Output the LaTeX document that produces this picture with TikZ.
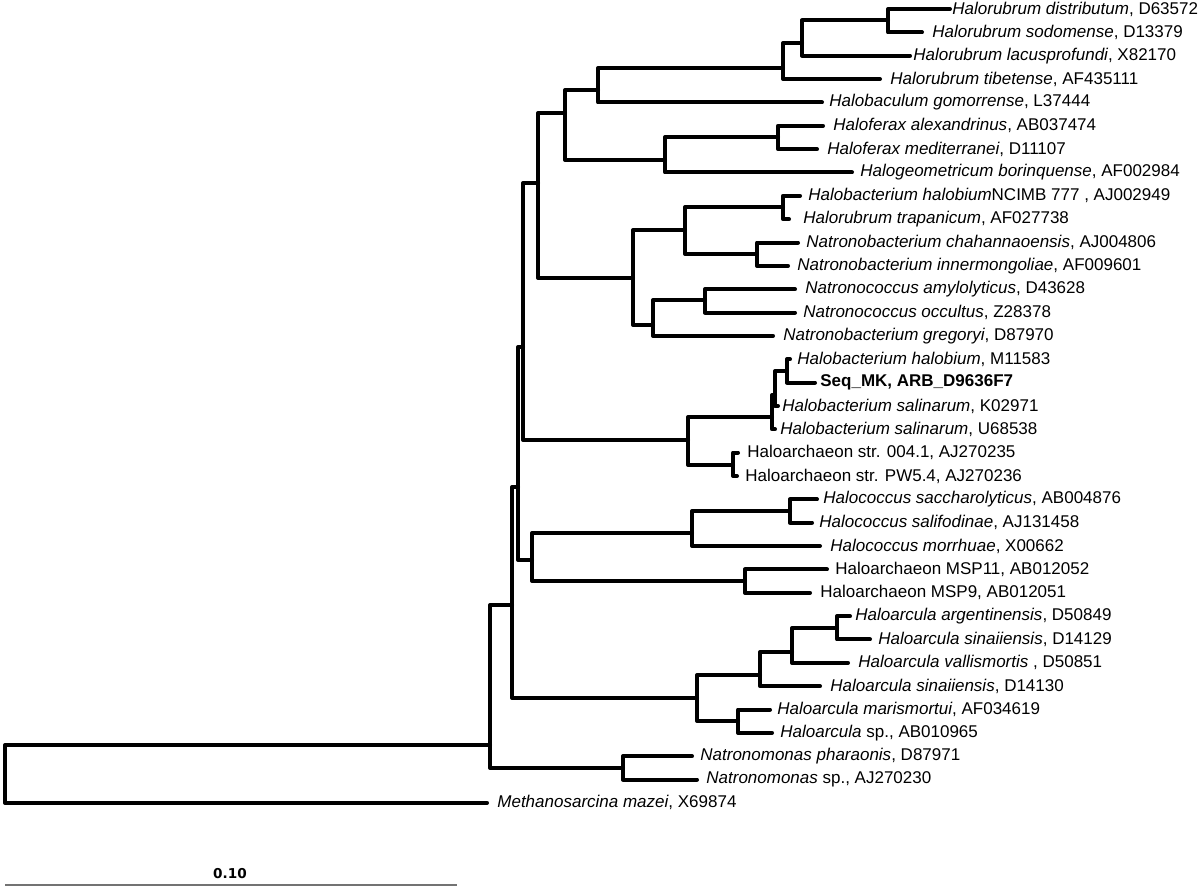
\documentclass[tikz,border=0pt]{standalone}
\usepackage{fontspec}
\setmainfont{Liberation Sans}
\newfontfamily\scalefont{DejaVu Sans}
\begin{document}
\begin{tikzpicture}[x=0.5pt,y=-0.5pt,
  br/.style={line width=2pt,line join=round,line cap=round},
  lab/.style={anchor=west,inner sep=0pt,font=\fontsize{8.5}{10}\selectfont},
  sbar/.style={line width=0.9pt,draw=black!55},
  sblab/.style={inner sep=0pt,font=\scalefont\bfseries\fontsize{6.8}{8}\selectfont}]
\useasboundingbox (0,0) rectangle (1200,888);
% leaf tips
\coordinate (t1) at (950,9);
\coordinate (t2) at (922,32.35);
\coordinate (t3) at (910,55.7);
\coordinate (t4) at (880,79.05);
\coordinate (t5) at (822,102.4);
\coordinate (t6) at (823,125.75);
\coordinate (t7) at (817,149.1);
\coordinate (t8) at (852,172.45);
\coordinate (t9) at (800,195.8);
\coordinate (t10) at (789,219.15);
\coordinate (t11) at (798,242.5);
\coordinate (t12) at (788,265.85);
\coordinate (t13) at (795,289.2);
\coordinate (t14) at (795,312.55);
\coordinate (t15) at (773,335.9);
\coordinate (t16) at (790,359.25);
\coordinate (t17) at (815,382.6);
\coordinate (t18) at (778,405.95);
\coordinate (t19) at (775,429.3);
\coordinate (t20) at (738,452.65);
\coordinate (t21) at (737,476);
\coordinate (t22) at (817,499.35);
\coordinate (t23) at (812,522.7);
\coordinate (t24) at (820,546.05);
\coordinate (t25) at (827,569.4);
\coordinate (t26) at (810,592.75);
\coordinate (t27) at (850,616.1);
\coordinate (t28) at (870,639.45);
\coordinate (t29) at (848,662.8);
\coordinate (t30) at (820,686.15);
\coordinate (t31) at (770,709.5);
\coordinate (t32) at (772,732.85);
\coordinate (t33) at (692,756.2);
\coordinate (t34) at (697,779.55);
\coordinate (t35) at (487,802.9);
% internal nodes
\coordinate (n888) at (888,20.5);
\coordinate (n802) at (802,43);
\coordinate (n783a) at (783,68);
\coordinate (n598) at (598,90);
\coordinate (n778) at (778,137);
\coordinate (n665) at (665,160);
\coordinate (n565) at (565,113);
\coordinate (n783b) at (783,207);
\coordinate (n757) at (757,254);
\coordinate (n685) at (685,230);
\coordinate (n705) at (705,300);
\coordinate (n653) at (653,325);
\coordinate (n633) at (633,278);
\coordinate (n538) at (538,183);
\coordinate (n787) at (787,371);
\coordinate (n775) at (775,395);
\coordinate (n772) at (772,417);
\coordinate (n733) at (733,465);
\coordinate (n688) at (688,440);
\coordinate (n523) at (523,347);
\coordinate (n790) at (790,511);
\coordinate (n692) at (692,533);
\coordinate (n745) at (745,581);
\coordinate (n532) at (532,560);
\coordinate (n518) at (518,487);
\coordinate (n837) at (837,628);
\coordinate (n792) at (792,652);
\coordinate (n760) at (760,675);
\coordinate (n738) at (738,721);
\coordinate (n697) at (697,698);
\coordinate (n512) at (512,605);
\coordinate (n623) at (623,768);
\coordinate (n490) at (490,745);
\coordinate (root) at (5,774);
% branches
\foreach \p/\c in {n888/t1,n888/t2,n802/n888,n802/t3,n783a/n802,n783a/t4,
  n598/n783a,n598/t5,n778/t6,n778/t7,n665/n778,n665/t8,n565/n598,n565/n665,
  n783b/t9,n783b/t10,n757/t11,n757/t12,n685/n783b,n685/n757,
  n705/t13,n705/t14,n653/n705,n653/t15,n633/n685,n633/n653,
  n538/n565,n538/n633,
  n787/t16,n787/t17,n775/n787,n775/t18,n772/n775,n772/t19,
  n733/t20,n733/t21,n688/n772,n688/n733,n523/n538,n523/n688,
  n790/t22,n790/t23,n692/n790,n692/t24,n745/t25,n745/t26,
  n532/n692,n532/n745,n518/n523,n518/n532,
  n837/t27,n837/t28,n792/n837,n792/t29,n760/n792,n760/t30,
  n738/t31,n738/t32,n697/n760,n697/n738,n512/n518,n512/n697,
  n623/t33,n623/t34,n490/n512,n490/n623,root/n490,root/t35}
  {\draw[br] (\p) |- (\c);}
% labels
\node[lab] (l1) at (952,9) {\textit{Halorubrum distributum}, D63572};
\node[lab] (l2) at (932,32.35) {\textit{Halorubrum sodomense}, D13379};
\node[lab] (l3) at (913,55.7) {\textit{Halorubrum lacusprofundi}, X82170};
\node[lab] (l4) at (890,79.05) {\textit{Halorubrum tibetense}, AF435111};
\node[lab] (l5) at (829,102.4) {\textit{Halobaculum gomorrense}, L37444};
\node[lab] (l6) at (833,125.75) {\textit{Haloferax alexandrinus}, AB037474};
\node[lab] (l7) at (827,149.1) {\textit{Haloferax mediterranei}, D11107};
\node[lab] (l8) at (860,172.45) {\textit{Halogeometricum borinquense}, AF002984};
\node[lab] (l9) at (808,195.8) {\textit{Halobacterium halobium}NCIMB 777 , AJ002949};
\node[lab] (l10) at (803,219.15) {\textit{Halorubrum trapanicum}, AF027738};
\node[lab] (l11) at (806,242.5) {\textit{Natronobacterium chahannaoensis}, AJ004806};
\node[lab] (l12) at (797,265.85) {\textit{Natronobacterium innermongoliae}, AF009601};
\node[lab] (l13) at (805,289.2) {\textit{Natronococcus amylolyticus}, D43628};
\node[lab] (l14) at (803,312.55) {\textit{Natronococcus occultus}, Z28378};
\node[lab] (l15) at (783,335.9) {\textit{Natronobacterium gregoryi}, D87970};
\node[lab] (l16) at (797,359.25) {\textit{Halobacterium halobium}, M11583};
\node[lab] (l17) at (820,382.6) {\textbf{Seq\_MK, ARB\_D9636F7}};
\node[lab] (l18) at (782,405.95) {\textit{Halobacterium salinarum}, K02971};
\node[lab] (l19) at (780,429.3) {\textit{Halobacterium salinarum}, U68538};
\node[lab] (l20) at (747,452.65) {Haloarchaeon str. 004.1, AJ270235};
\node[lab] (l21) at (745,476) {Haloarchaeon str. PW5.4, AJ270236};
\node[lab] (l22) at (823,499.35) {\textit{Halococcus saccharolyticus}, AB004876};
\node[lab] (l23) at (819,522.7) {\textit{Halococcus salifodinae}, AJ131458};
\node[lab] (l24) at (830,546.05) {\textit{Halococcus morrhuae}, X00662};
\node[lab] (l25) at (835,569.4) {Haloarchaeon MSP11, AB012052};
\node[lab] (l26) at (820,592.75) {Haloarchaeon MSP9, AB012051};
\node[lab] (l27) at (855,616.1) {\textit{Haloarcula argentinensis}, D50849};
\node[lab] (l28) at (878,639.45) {\textit{Haloarcula sinaiiensis}, D14129};
\node[lab] (l29) at (858,662.8) {\textit{Haloarcula vallismortis} , D50851};
\node[lab] (l30) at (830,686.15) {\textit{Haloarcula sinaiiensis}, D14130};
\node[lab] (l31) at (777,709.5) {\textit{Haloarcula marismortui}, AF034619};
\node[lab] (l32) at (780,732.85) {\textit{Haloarcula} sp., AB010965};
\node[lab] (l33) at (700,756.2) {\textit{Natronomonas pharaonis}, D87971};
\node[lab] (l34) at (706,779.55) {\textit{Natronomonas} sp., AJ270230};
\node[lab] (l35) at (497,802.9) {\textit{Methanosarcina mazei}, X69874};
% scale bar
\coordinate (sb1) at (5,885);
\coordinate (sb2) at (457,885);
\draw[sbar] (sb1) -- (sb2);
\node[sblab] (sbl) at (230,874) {0.10};
\end{tikzpicture}
\end{document}
